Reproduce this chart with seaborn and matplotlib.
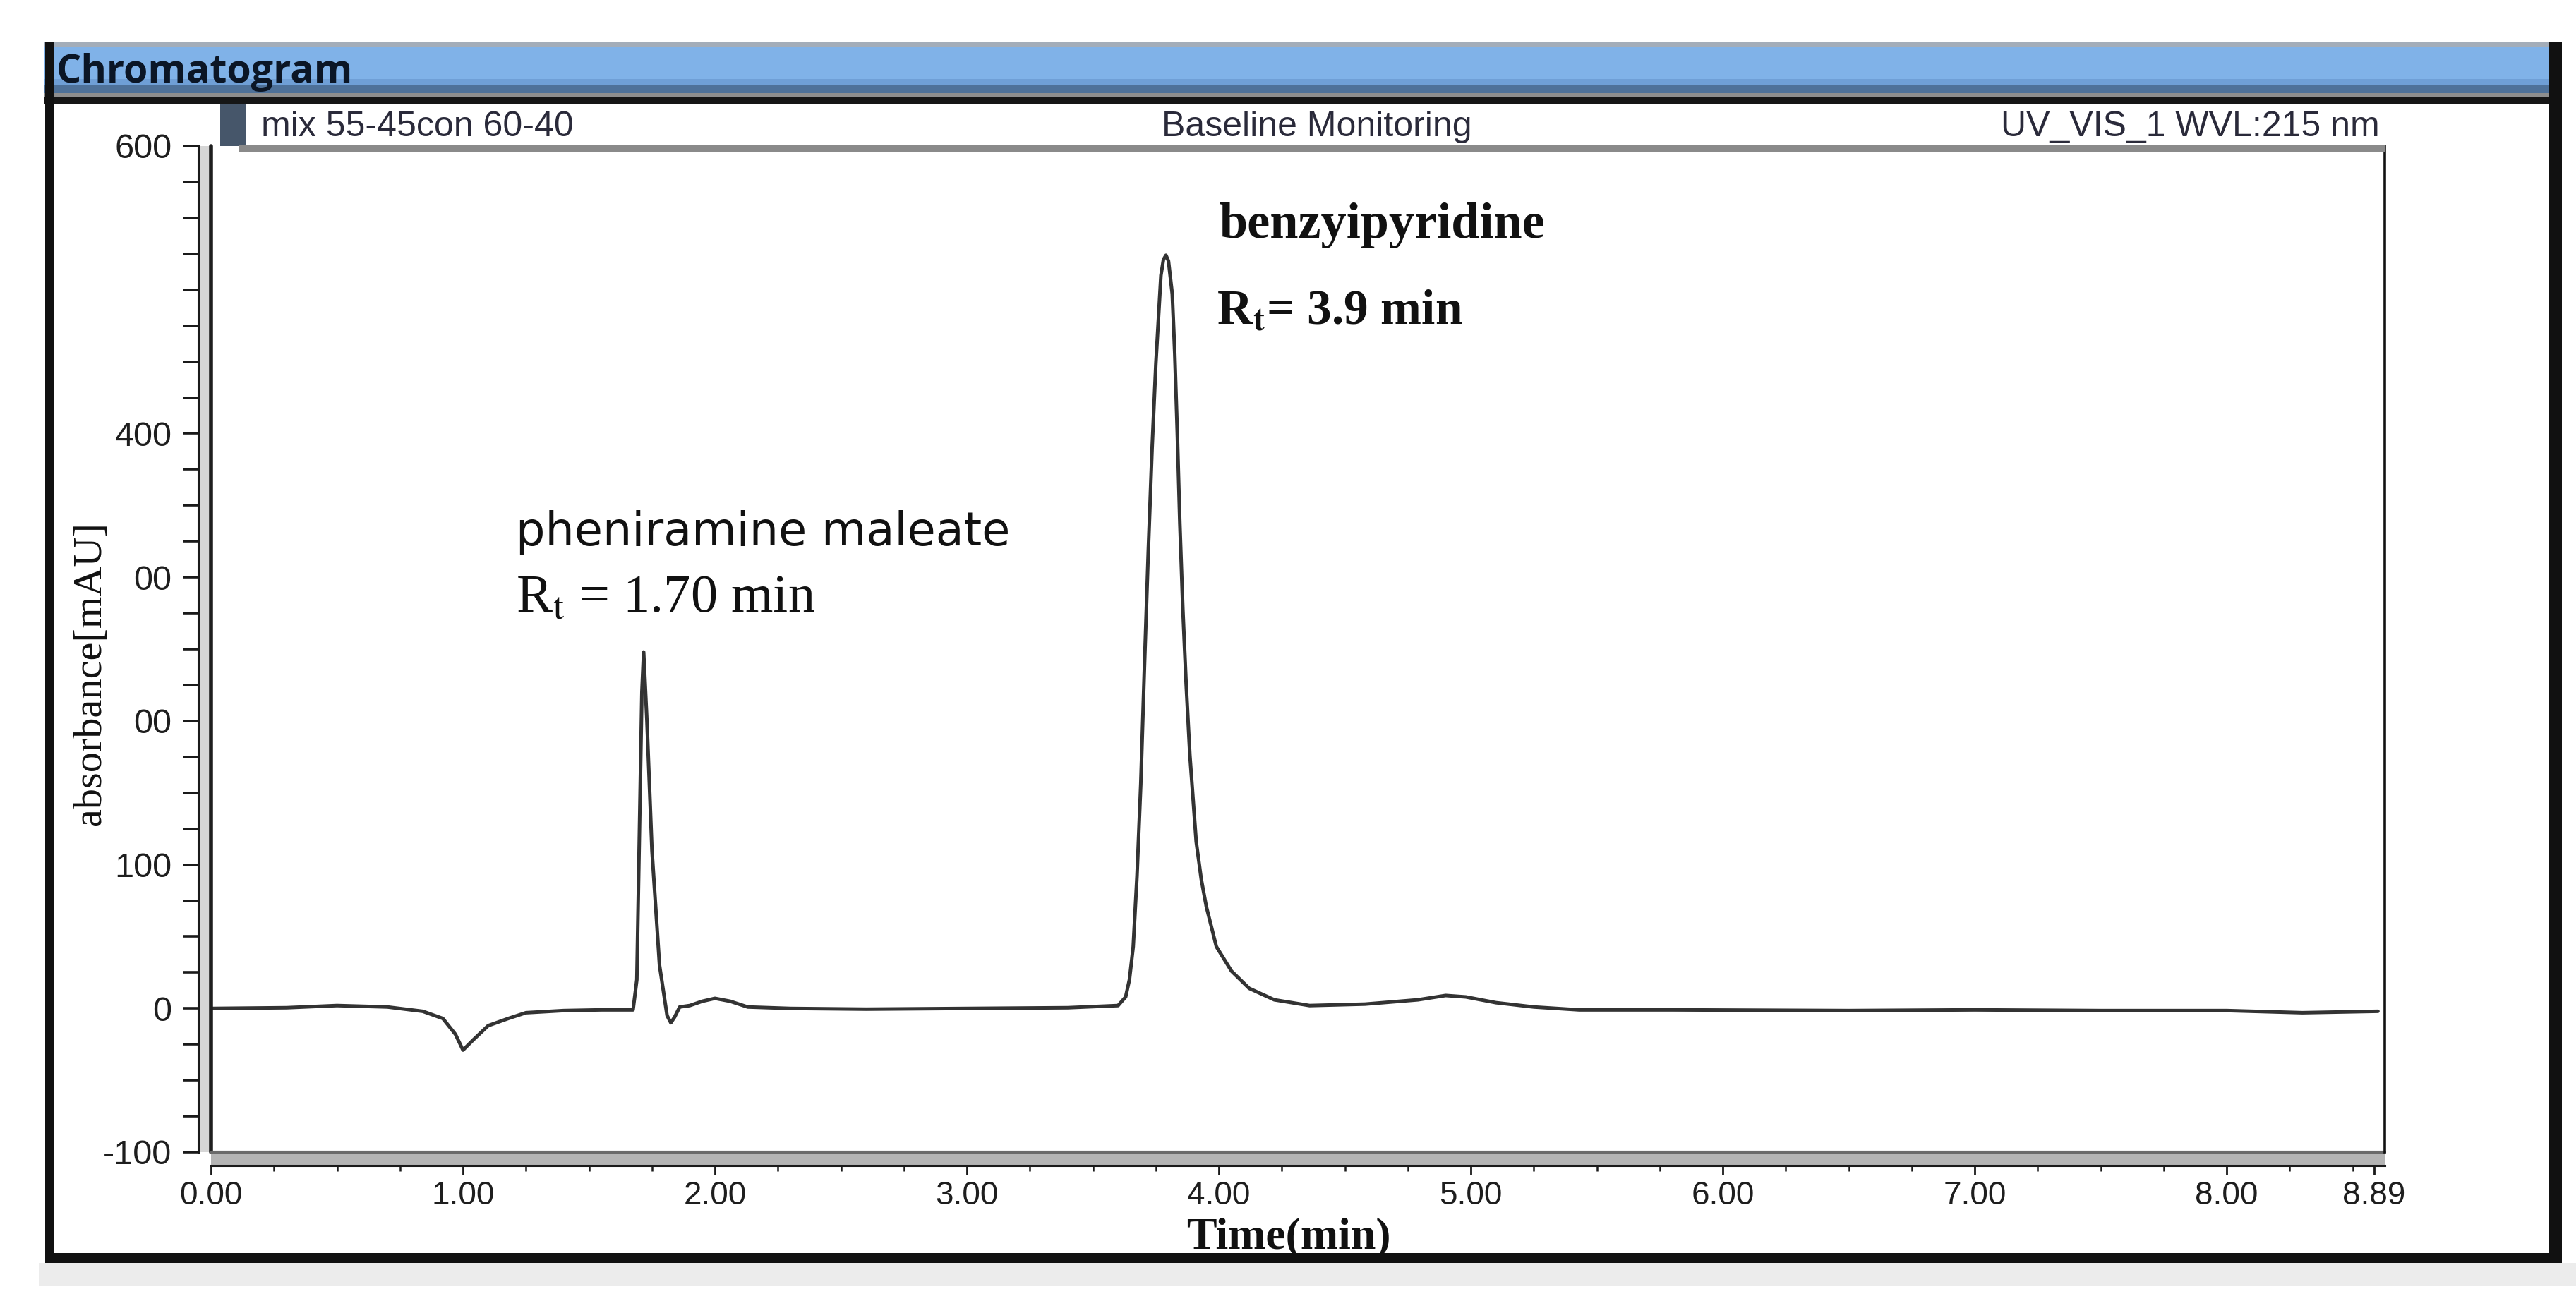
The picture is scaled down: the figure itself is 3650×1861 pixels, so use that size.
import numpy as np
import pandas as pd
import matplotlib
matplotlib.use("Agg")
import matplotlib.pyplot as plt
import seaborn as sns
from matplotlib.patches import Rectangle
from matplotlib.ticker import FixedLocator, MultipleLocator

# ---------------- data ----------------
time_min = [0.00, 0.30, 0.50, 0.70, 0.84, 0.92, 0.97, 1.00, 1.04, 1.10, 1.18, 1.25,
            1.40, 1.55, 1.675, 1.69, 1.70, 1.71, 1.717, 1.73, 1.75, 1.78, 1.81, 1.825,
            1.84, 1.86, 1.90, 1.95, 2.00, 2.06, 2.13, 2.30, 2.60, 3.00, 3.40, 3.60,
            3.63, 3.645, 3.66, 3.675, 3.69, 3.705, 3.72, 3.735, 3.75, 3.77, 3.78, 3.79,
            3.80, 3.815, 3.825, 3.835, 3.845, 3.857, 3.87, 3.885, 3.91, 3.93, 3.95, 3.99,
            4.05, 4.12, 4.22, 4.36, 4.58, 4.79, 4.90, 4.98, 5.10, 5.25,
            5.43, 5.80, 6.50, 7.00, 7.50, 8.00, 8.30, 8.60]
absorbance_mau = [0, 0.5, 2, 1, -2, -7, -18, -29, -22, -12, -7, -3,
                  -1.5, -1, -1, 20, 120, 220, 248, 200, 110, 30, -5, -10,
                  -6, 1, 2, 5, 7, 5, 1, 0, -0.5, 0, 0.5, 2,
                  8, 20, 43, 92, 156, 240, 319, 390, 449, 510, 521, 524,
                  520, 497, 455, 400, 338, 278, 226, 176, 116, 90, 71, 43,
                  26, 14, 6, 2, 3, 6, 9, 8, 4, 1,
                  -1, -1, -1.5, -1, -1.5, -1.5, -3, -2]

x_tick_values = [0, 1, 2, 3, 4, 5, 6, 7, 8, 8.585]
x_tick_labels = ["0.00", "1.00", "2.00", "3.00", "4.00", "5.00", "6.00", "7.00", "8.00", "8.89"]
y_tick_values = [-100, 0, 100, 200, 300, 400, 500, 600]
y_tick_labels = ["-100", "0", "100", "00", "00", "400", "", "600"]

peak_names = ["pheniramine maleate", "benzyipyridine"]
peak_rt_texts = [r"R$_{\mathrm{t}}$ = 1.70 min", r"R$_{\mathbf{t}}$= 3.9 min"]
header_texts = ["mix 55-45con 60-40", "Baseline Monitoring", "UV_VIS_1 WVL:215 nm"]
window_title = "Chromatogram"
x_label = "Time(min)"
y_label = "absorbance[mAU]"

# ---------------- style ----------------
sns.set_style("white")
plt.rcParams["font.family"] = ["Liberation Sans", "DejaVu Sans"]
plt.rcParams["mathtext.fontset"] = "stix"

W, H = 3650, 1861
fig = plt.figure(figsize=(W / 100, H / 100), dpi=100)
fig.patch.set_facecolor("white")


def fx(x):
    return x / W


def fy(y):
    return 1 - y / H


def frect(x0, y0, x1, y1, color, z=2):
    fig.add_artist(Rectangle((fx(x0), fy(y1)), (x1 - x0) / W, (y1 - y0) / H,
                             transform=fig.transFigure, facecolor=color,
                             edgecolor="none", zorder=z))


# ---------------- main axes ----------------
ax_l, ax_r, ax_t, ax_b = 299, 3379, 207, 1633
ax = fig.add_axes([fx(ax_l), fy(ax_b), (ax_r - ax_l) / W, (ax_b - ax_t) / H])
ax.set_facecolor("white")

df = pd.DataFrame({"time": time_min, "abs": absorbance_mau})
sns.lineplot(data=df, x="time", y="abs", ax=ax, color="#333333", linewidth=3.6,
             estimator=None, sort=False, legend=False)
for ln in ax.get_lines():
    ln.set_solid_joinstyle("round")
    ln.set_solid_capstyle("round")

ax.set_xlim(0, 8.627)
ax.set_ylim(-100, 600)
ax.set_xlabel("")
ax.set_ylabel("")

# spines
ax.spines["top"].set_visible(False)
ax.spines["right"].set_visible(True)
ax.spines["right"].set_color("#111111")
ax.spines["right"].set_linewidth(2.6)
ax.spines["left"].set_position(("outward", 13))
ax.spines["bottom"].set_position(("outward", 13.7))
for s in ["left", "bottom"]:
    ax.spines[s].set_color("#1a1a1a")
    ax.spines[s].set_linewidth(2.2)

# frame of the plot box (left/bottom double line look)
ax.add_patch(Rectangle((0, -19 / 1426), 1, 19 / 1426, transform=ax.transAxes,
                       facecolor="#b4b4b4", edgecolor="none", clip_on=False, zorder=0.5))
ax.add_patch(Rectangle((-18 / 3080, 0), 18 / 3080, 1, transform=ax.transAxes,
                       facecolor="#d6d6d6", edgecolor="none", clip_on=False, zorder=0.5))
ax.plot([0, 0], [0, 1], transform=ax.transAxes, color="#1e1e1e", lw=4.0, clip_on=False)
ax.plot([0, 1], [0, 0], transform=ax.transAxes, color="#6a6a6a", lw=3.0, clip_on=False)

# ticks
ax.xaxis.set_major_locator(FixedLocator(x_tick_values))
ax.set_xticklabels(x_tick_labels)
ax.xaxis.set_minor_locator(MultipleLocator(0.25))
ax.yaxis.set_major_locator(FixedLocator(y_tick_values))
ax.set_yticklabels(y_tick_labels)
ax.yaxis.set_minor_locator(MultipleLocator(25))

ax.tick_params(axis="x", which="major", direction="out", length=9, width=2.0,
               color="#1a1a1a", labelsize=33, pad=6, labelcolor="#1e1e1e",
               bottom=True)
ax.tick_params(axis="x", which="minor", direction="out", length=6, width=1.8,
               color="#1a1a1a", bottom=True)
ax.tick_params(axis="y", which="both", direction="out", length=15, width=2.6,
               color="#1a1a1a", left=True)
ax.tick_params(axis="y", which="major", labelsize=35, pad=12, labelcolor="#1e1e1e")

# peak annotations
ax.text(1.21, 322, peak_names[0], fontsize=47, family=["DejaVu Sans"],
        color="#111111", ha="left", va="baseline")
ax.text(1.21, 276, peak_rt_texts[0], fontsize=55, family=["Liberation Serif"],
        color="#111111", ha="left", va="baseline")
ax.text(4.00, 536, peak_names[1], fontsize=52, family=["Liberation Serif"],
        fontweight="bold", color="#111111", ha="left", va="baseline")
ax.text(3.99, 476, peak_rt_texts[1], fontsize=50, family=["Liberation Serif"],
        fontweight="bold", color="#111111", ha="left", va="baseline")

# axis labels
fig.text(fx(1826), fy(1754), x_label, fontsize=46, family=["Liberation Serif"],
         fontweight="bold", ha="center", va="center", color="#111111")
fig.text(fx(128), fy(955), y_label, fontsize=42, family=["Liberation Serif"],
         rotation=90, ha="center", va="center", color="#111111")

# ---------------- window decorations ----------------
# title band
frect(62, 60, 3625, 66, "#a3adb9")
frect(62, 66, 3625, 112, "#80b2e8")
frect(62, 112, 3625, 120, "#6f9fd6")
frect(62, 120, 3625, 132, "#4e7199")
frect(62, 132, 3625, 138, "#8e8e8e")
frect(62, 138, 3625, 147, "#161616")
fig.text(fx(80), fy(102), window_title, fontsize=40, family=["Open Sans", "DejaVu Sans"],
         fontweight="bold", color="#0b1626", ha="left", va="center", zorder=3)

# outer window borders
frect(64, 60, 76, 1790, "#111111")
frect(3612, 60, 3630, 1790, "#111111")
frect(64, 1776, 3630, 1790, "#111111")
frect(55, 1790, 3650, 1823, "#ececec", z=1)

# header row of the chromatogram panel
frect(312, 147, 348, 207, "#46566a")
frect(339, 205, 3379, 215, "#8a8a8a")
fig.text(fx(370), fy(180), header_texts[0], fontsize=36, color="#2a2a3a",
         ha="left", va="center")
fig.text(fx(1866), fy(180), header_texts[1], fontsize=36, color="#2a2a3a",
         ha="center", va="center")
fig.text(fx(3372), fy(180), header_texts[2], fontsize=36, color="#2a2a3a",
         ha="right", va="center")

fig.savefig("out.png", dpi=100, facecolor="white")
